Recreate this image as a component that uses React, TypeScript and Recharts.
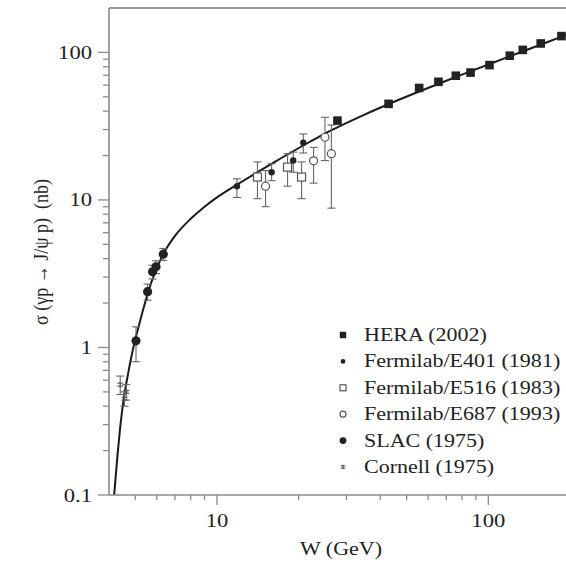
import React from "react";
import {
  ComposedChart,
  Line,
  Scatter,
  ErrorBar,
  XAxis,
  YAxis,
  ReferenceLine,
} from "recharts";

// fitted curve
const curveW = [4.18, 4.25, 4.31, 4.4, 4.55, 4.7, 4.9, 5.15, 5.45, 5.8, 6.34, 7, 8, 9, 10, 11.85, 14, 16, 19, 22, 25, 28, 35, 43, 55, 70, 85, 100, 130, 160, 200];
const curveS = [0.1, 0.145, 0.195, 0.29, 0.47, 0.66, 0.97, 1.4, 2.05, 2.95, 4.3, 5.7, 7.45, 9.0, 10.4, 12.7, 15.3, 17.7, 21.3, 24.8, 28.2, 31.3, 37.9, 44.7, 53.9, 64.3, 73.8, 82.8, 99.5, 115, 134.5];

const heraW = [27.8, 42.9, 55.6, 65.5, 75.9, 86, 101, 120, 134, 156, 186];
const heraS = [34.5, 44.8, 57.4, 63.2, 69.5, 73, 82, 95, 104, 115, 129];

const e401W = [11.85, 15.9, 19.1, 20.8];
const e401S = [12.4, 15.4, 18.5, 24.4];
const e401Lo = [2.0, 1.9, 3.1, 3.6];
const e401Hi = [1.5, 2.2, 2.6, 3.6];

const e516W = [14.1, 18.2, 20.5];
const e516S = [14.3, 16.7, 14.3];
const e516Lo = [4.1, 4.3, 4.1];
const e516Hi = [3.8, 3.9, 3.8];

const e687W = [15.1, 22.7, 25.0, 26.4];
const e687S = [12.4, 18.4, 26.6, 20.6];
const e687Lo = [3.4, 5.4, 8.1, 11.8];
const e687Hi = [3.4, 4.3, 9.7, 11.6];

const slacW = [5.03, 5.55, 5.79, 5.96, 6.34];
const slacS = [1.11, 2.39, 3.26, 3.52, 4.29];
const slacLo = [0.31, 0.3, 0.35, 0.35, 0.4];
const slacHi = [0.27, 0.3, 0.35, 0.35, 0.4];

const cornellW = [4.4, 4.56, 4.63];
const cornellS = [0.56, 0.45, 0.5];
const cornellLo = [0.08, 0.05, 0.06];
const cornellHi = [0.08, 0.05, 0.06];

const xTicks = [5, 6, 7, 8, 9, 10, 20, 30, 40, 50, 60, 70, 80, 90, 100];
const yTicks = [0.1, 0.2, 0.3, 0.4, 0.5, 0.6, 0.7, 0.8, 0.9, 1, 2, 3, 4, 5, 6, 7, 8, 9, 10, 20, 30, 40, 50, 60, 70, 80, 90, 100];
const xLabels = [10, 100];
const yLabels = [0.1, 1, 10, 100];

const legendNames = [
  "HERA (2002)",
  "Fermilab/E401 (1981)",
  "Fermilab/E516 (1983)",
  "Fermilab/E687 (1993)",
  "SLAC (1975)",
  "Cornell (1975)",
];

const points = (w: number[], s: number[], lo?: number[], hi?: number[]) =>
  w.map((v, i) => ({ w: v, s: s[i], err: lo && hi ? [lo[i], hi[i]] : [0, 0] }));

const curve = curveW.map((v, i) => ({ w: v, s: curveS[i] }));

const FONT = "Liberation Serif, Times New Roman, Times, serif";
const STRETCH = 1.19;
const INK = "#222";
const AXIS = "#8a8a8a";
// plot frame edges (chart margin + axis sizes below)
const LEFT = 109;
const BOTTOM = 495;

type Sym = "square" | "dot" | "osquare" | "ocircle" | "circle" | "star";

function drawSymbol(kind: Sym, cx: number, cy: number, k = 1) {
  switch (kind) {
    case "square":
      return <rect x={cx - 4.3 * k} y={cy - 4.3 * k} width={8.6 * k} height={8.6 * k} fill={INK} />;
    case "dot":
      return <circle cx={cx} cy={cy} r={3.2 * k} fill={INK} />;
    case "osquare":
      return <rect x={cx - 4 * k} y={cy - 4 * k} width={8 * k} height={8 * k} fill="#fff" stroke="#555" strokeWidth={1.2} />;
    case "ocircle":
      return <circle cx={cx} cy={cy} r={4 * k} fill="#fff" stroke="#555" strokeWidth={1.2} />;
    case "circle":
      return <circle cx={cx} cy={cy} r={4.6 * k} fill={INK} />;
    case "star":
      return (
        <g stroke="#555" strokeWidth={1.1}>
          <line x1={cx - 3 * k} x2={cx + 3 * k} y1={cy - 1.5 * k} y2={cy - 1.5 * k} />
          <line x1={cx - 3 * k} x2={cx + 3 * k} y1={cy + 1.5 * k} y2={cy + 1.5 * k} />
          <line x1={cx} x2={cx} y1={cy - 3 * k} y2={cy + 3 * k} />
        </g>
      );
  }
}

const legendSyms: Sym[] = ["square", "dot", "osquare", "ocircle", "circle", "star"];

const shape = (kind: Sym) => (p: any) => drawSymbol(kind, p.cx, p.cy);

// ticks point outward, as in the original figure
const XTick = (p: any) => {
  const v = p.payload.value;
  const major = xLabels.includes(v);
  return (
    <g>
      <line x1={p.x} x2={p.x} y1={BOTTOM} y2={BOTTOM + (major ? 10 : 5)} stroke={AXIS} strokeWidth={1.3} />
      {major && (
        <text
          transform={`translate(${p.x},${BOTTOM + 32}) scale(${STRETCH},1)`}
          textAnchor="middle"
          fontSize={19}
          style={{ fontFamily: FONT }}
          fill={INK}
        >
          {v}
        </text>
      )}
    </g>
  );
};

const YTick = (p: any) => {
  const v = p.payload.value;
  const major = yLabels.includes(v);
  return (
    <g>
      <line x1={LEFT} x2={LEFT - (major ? 11 : 6)} y1={p.y} y2={p.y} stroke={AXIS} strokeWidth={1.3} />
      {major && (
        <text
          transform={`translate(${LEFT - 17},${p.y + 6.5}) scale(${STRETCH},1)`}
          textAnchor="end"
          fontSize={19}
          style={{ fontFamily: FONT }}
          fill={INK}
        >
          {v}
        </text>
      )}
    </g>
  );
};

export default function App() {
  return (
    <div style={{ position: "absolute", left: 0, top: 0, width: 566, height: 565, overflow: "hidden", background: "#fff", fontFamily: FONT }}>
      <ComposedChart width={580} height={565} margin={{ top: 8, right: 10, bottom: 0, left: 0 }}>
        <XAxis
          dataKey="w"
          type="number"
          scale="log"
          domain={[4, 200]}
          allowDataOverflow
          ticks={xTicks}
          interval={0}
          tickSize={0}
          tickMargin={0}
          tickLine={false}
          tick={XTick}
          height={70}
          axisLine={{ stroke: AXIS, strokeWidth: 1.6 }}
          label={() => (
            <text
              transform={`translate(341,555) scale(${STRETCH},1)`}
              textAnchor="middle"
              fontSize={18.5}
              style={{ fontFamily: FONT }}
              fill={INK}
            >
              W (GeV)
            </text>
          )}
        />
        <YAxis
          dataKey="s"
          type="number"
          scale="log"
          domain={[0.1, 200]}
          allowDataOverflow
          ticks={yTicks}
          interval={0}
          tickSize={0}
          tickMargin={0}
          tickLine={false}
          tick={YTick}
          width={LEFT}
          axisLine={{ stroke: AXIS, strokeWidth: 1.6 }}
          label={() => (
            <text
              transform={`translate(48,252) rotate(-90) scale(1,${STRETCH})`}
              textAnchor="middle"
              fontSize={18}
              fill={INK}
              style={{ whiteSpace: "pre", fontFamily: FONT }}
            >
              {"σ (γp → J/ψ p)  (nb)"}
            </text>
          )}
        />
        <ReferenceLine y={200} stroke="#999" strokeWidth={2} ifOverflow="visible" />
        <Line
          data={curve}
          dataKey="s"
          type="monotone"
          stroke="#1a1a1a"
          strokeWidth={2}
          dot={false}
          isAnimationActive={false}
        />
        <Scatter data={points(cornellW, cornellS, cornellLo, cornellHi)} shape={shape("star")} isAnimationActive={false}>
          <ErrorBar dataKey="err" direction="y" width={4} stroke="#666" strokeWidth={1.1} />
        </Scatter>
        <Scatter data={points(slacW, slacS, slacLo, slacHi)} shape={shape("circle")} isAnimationActive={false}>
          <ErrorBar dataKey="err" direction="y" width={4} stroke="#666" strokeWidth={1.1} />
        </Scatter>
        <Scatter data={points(e516W, e516S, e516Lo, e516Hi)} shape={shape("osquare")} isAnimationActive={false}>
          <ErrorBar dataKey="err" direction="y" width={4} stroke="#666" strokeWidth={1.1} />
        </Scatter>
        <Scatter data={points(e687W, e687S, e687Lo, e687Hi)} shape={shape("ocircle")} isAnimationActive={false}>
          <ErrorBar dataKey="err" direction="y" width={4} stroke="#666" strokeWidth={1.1} />
        </Scatter>
        <Scatter data={points(e401W, e401S, e401Lo, e401Hi)} shape={shape("dot")} isAnimationActive={false}>
          <ErrorBar dataKey="err" direction="y" width={4} stroke="#666" strokeWidth={1.1} />
        </Scatter>
        <Scatter data={points(heraW, heraS)} shape={shape("square")} isAnimationActive={false} />
      </ComposedChart>
      <svg
        width={236}
        height={165}
        style={{ position: "absolute", left: 330, top: 318 }}
      >
        {legendNames.map((name, i) => {
          const cy = 17 + i * 26.4;
          return (
            <g key={name}>
              {drawSymbol(legendSyms[i], 13, cy, 0.75)}
              <text
                transform={`translate(34,${cy + 6}) scale(${STRETCH},1)`}
                fontSize={18.5}
                style={{ fontFamily: FONT }}
                fill={INK}
              >
                {name}
              </text>
            </g>
          );
        })}
      </svg>
    </div>
  );
}
